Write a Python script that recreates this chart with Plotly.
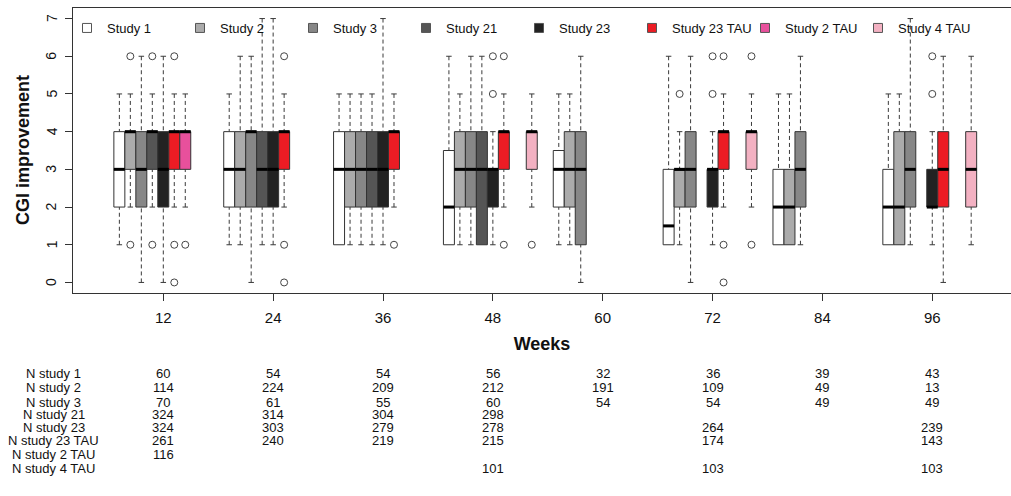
import plotly.graph_objects as go

# ---------------------------------------------------------------------------
# Data: CGI improvement by study and visit week (box statistics per week)
# ---------------------------------------------------------------------------
weeks = [12, 24, 36, 48, 60, 72, 84, 96]
cgi_ticks = [0, 1, 2, 3, 4, 5, 6, 7]

series_names = ["Study 1", "Study 2", "Study 3", "Study 21", "Study 23",
                "Study 23 TAU", "Study 2 TAU", "Study 4 TAU"]

# None marks a week without data for that study
study1_q1 = [2, 2, 1, 1, 2, 1, 1, 1]
study1_med = [3, 3, 3, 2, 3, 1.5, 2, 2]
study1_q3 = [4, 4, 4, 3.5, 3.5, 3, 3, 3]
study1_lo = [1, 1, 1, 1, 1, 1, 1, 1]
study1_hi = [5, 5, 5, 6, 5, 6, 5, 5]
study1_out = [[], [], [], [], [], [], [], []]

study2_q1 = [3, 2, 2, 2, 2, 2, 1, 1]
study2_med = [4, 3, 3, 3, 3, 3, 2, 2]
study2_q3 = [4, 4, 4, 4, 4, 3, 3, 4]
study2_lo = [2, 1, 1, 1, 1, 1, 1, 1]
study2_hi = [5, 6, 5, 5, 5, 4, 5, 5]
study2_out = [[6, 1], [], [], [], [], [5], [], []]

study3_q1 = [2, 2, 2, 2, 1, 2, 2, 2]
study3_med = [3, 4, 3, 3, 3, 3, 3, 3]
study3_q3 = [4, 4, 4, 4, 4, 4, 4, 4]
study3_lo = [0, 0, 1, 1, 0, 0, 1, 1]
study3_hi = [6, 6, 5, 6, 6, 6, 6, 7]
study3_out = [[], [], [], [], [], [], [], []]

study21_q1 = [3, 2, 2, 1, None, None, None, None]
study21_med = [4, 3, 3, 3, None, None, None, None]
study21_q3 = [4, 4, 4, 4, None, None, None, None]
study21_lo = [2, 1, 1, 1, None, None, None, None]
study21_hi = [5, 7, 5, 6, None, None, None, None]
study21_out = [[6, 1], [], [], [], [], [], [], []]

study23_q1 = [2, 2, 2, 2, None, 2, None, 2]
study23_med = [3, 3, 3, 3, None, 3, None, 2]
study23_q3 = [4, 4, 4, 3, None, 3, None, 3]
study23_lo = [0, 1, 1, 1, None, 1, None, 1]
study23_hi = [6, 7, 7, 4, None, 4, None, 4]
study23_out = [[], [], [], [6, 5], [], [6, 5], [], [6, 5]]

study23tau_q1 = [3, 3, 3, 3, None, 3, None, 2]
study23tau_med = [4, 4, 4, 4, None, 4, None, 3]
study23tau_q3 = [4, 4, 4, 4, None, 4, None, 4]
study23tau_lo = [2, 2, 2, 2, None, 2, None, 0]
study23tau_hi = [5, 5, 5, 5, None, 5, None, 6]
study23tau_out = [[6, 1, 0], [6, 1, 0], [1], [6, 1], [], [6, 1, 0], [], []]

study2tau_q1 = [3, None, None, None, None, None, None, None]
study2tau_med = [4, None, None, None, None, None, None, None]
study2tau_q3 = [4, None, None, None, None, None, None, None]
study2tau_lo = [2, None, None, None, None, None, None, None]
study2tau_hi = [5, None, None, None, None, None, None, None]
study2tau_out = [[1], [], [], [], [], [], [], []]

study4tau_q1 = [None, None, None, 3, None, 3, None, 2]
study4tau_med = [None, None, None, 4, None, 4, None, 3]
study4tau_q3 = [None, None, None, 4, None, 4, None, 4]
study4tau_lo = [None, None, None, 2, None, 2, None, 1]
study4tau_hi = [None, None, None, 5, None, 5, None, 6]
study4tau_out = [[], [], [], [1], [], [6, 1], [], []]

# Number of patients per study and week (None = not assessed)
table_labels = ["N study 1", "N study 2", "N study 3", "N study 21", "N study 23",
                "N study 23 TAU", "N study 2 TAU", "N study 4 TAU"]
n_study1 = [60, 54, 54, 56, 32, 36, 39, 43]
n_study2 = [114, 224, 209, 212, 191, 109, 49, 13]
n_study3 = [70, 61, 55, 60, 54, 54, 49, 49]
n_study21 = [324, 314, 304, 298, None, None, None, None]
n_study23 = [324, 303, 279, 278, None, 264, None, 239]
n_study23tau = [261, 240, 219, 215, None, 174, None, 143]
n_study2tau = [116, None, None, None, None, None, None, None]
n_study4tau = [None, None, None, 101, None, 103, None, 103]

# ---------------------------------------------------------------------------
# Styling
# ---------------------------------------------------------------------------
FONT = "Liberation Sans, Arial, Helvetica, sans-serif"
colors = ["#ffffff", "#ababab", "#878787", "#555555", "#222222",
          "#ec1c24", "#e8509c", "#f3b1c2"]
slot_offsets = [-4.8, -3.6, -2.4, -1.2, 0.0, 1.2, 2.4, 4.25]  # weeks from visit
BOX_W = 1.2
CAP_HALF = BOX_W / 4
EDGE = "#333333"

stats = [
    (study1_q1, study1_med, study1_q3, study1_lo, study1_hi, study1_out),
    (study2_q1, study2_med, study2_q3, study2_lo, study2_hi, study2_out),
    (study3_q1, study3_med, study3_q3, study3_lo, study3_hi, study3_out),
    (study21_q1, study21_med, study21_q3, study21_lo, study21_hi, study21_out),
    (study23_q1, study23_med, study23_q3, study23_lo, study23_hi, study23_out),
    (study23tau_q1, study23tau_med, study23tau_q3, study23tau_lo, study23tau_hi, study23tau_out),
    (study2tau_q1, study2tau_med, study2tau_q3, study2tau_lo, study2tau_hi, study2tau_out),
    (study4tau_q1, study4tau_med, study4tau_q3, study4tau_lo, study4tau_hi, study4tau_out),
]
n_table = [n_study1, n_study2, n_study3, n_study21, n_study23,
           n_study23tau, n_study2tau, n_study4tau]

fig = go.Figure()

wx, wy = [], []      # dashed whiskers
cx, cy = [], []      # whisker staples
mx, my = [], []      # medians
ox, oy = [], []      # outliers

for name, color, off, (q1, med, q3, lo, hi, out) in zip(series_names, colors, slot_offsets, stats):
    xs, b_q1, b_med, b_q3 = [], [], [], []
    for i, wk in enumerate(weeks):
        if q1[i] is None:
            continue
        x = wk + off
        xs.append(x)
        b_q1.append(q1[i]); b_med.append(med[i]); b_q3.append(q3[i])
        for end, edge in ((lo[i], q1[i]), (hi[i], q3[i])):
            if end != edge:
                wx += [x, x, None]; wy += [end, edge, None]
                cx += [x - CAP_HALF, x + CAP_HALF, None]; cy += [end, end, None]
        mx += [x - BOX_W / 2, x + BOX_W / 2, None]; my += [med[i], med[i], None]
        for v in out[i]:
            ox.append(x); oy.append(v)
    fig.add_trace(go.Box(
        x=xs, q1=b_q1, median=b_med, q3=b_q3, lowerfence=b_q1, upperfence=b_q3,
        width=BOX_W, whiskerwidth=0, fillcolor=color,
        line=dict(color=EDGE, width=1), showlegend=False, hoverinfo="skip",
    ))

fig.add_trace(go.Scatter(x=wx, y=wy, mode="lines", showlegend=False, hoverinfo="skip",
                         line=dict(color="#3a3a3a", width=1, dash="4px,3px")))
fig.add_trace(go.Scatter(x=cx, y=cy, mode="lines", showlegend=False, hoverinfo="skip",
                         line=dict(color="#3a3a3a", width=1)))
fig.add_trace(go.Scatter(x=mx, y=my, mode="lines", showlegend=False, hoverinfo="skip",
                         line=dict(color="#000000", width=3)))
fig.add_trace(go.Scatter(x=ox, y=oy, mode="markers", showlegend=False, hoverinfo="skip",
                         marker=dict(symbol="circle-open", size=7, color="#444444",
                                     line=dict(width=1))))

# Legend entries: filled squares
for name, color in zip(series_names, colors):
    fig.add_trace(go.Scatter(
        x=[None], y=[None], mode="markers", name=name,
        marker=dict(symbol="square", size=9, color=color, line=dict(color="#555555", width=1)),
    ))

# ---------------------------------------------------------------------------
# Layout
# ---------------------------------------------------------------------------
W, H = 1011, 496
M_L, M_R, M_T, M_B = 73, 0, 8, 203
plot_w = W - M_L - M_R
plot_h = H - M_T - M_B


def paper_y(px):
    return (H - M_B - px) / plot_h


def paper_x(px):
    return (px - M_L) / plot_w


annotations = []

# Vertical y tick labels, reading bottom-to-top
YLABEL_COL_PX = 51.5
for v in cgi_ticks:
    annotations.append(dict(x=paper_x(YLABEL_COL_PX), y=v, xref="paper", yref="y",
                            text=str(v), textangle=-90, showarrow=False,
                            xanchor="center", yanchor="middle",
                            font=dict(family=FONT, size=14, color="#111111")))

# Y axis title
annotations.append(dict(x=paper_x(22.5), y=0.5, xref="paper", yref="paper",
                        text="<b>CGI improvement</b>", textangle=-90, showarrow=False,
                        xanchor="center", yanchor="middle",
                        font=dict(family=FONT, size=18, color="#111111")))

# Patient counts table under the axis
table_rows_px = [373.3, 387.7, 402.3, 414.3, 427.7, 440.0, 454.7, 468.7]
LABEL_COL_PX = 53.5
for label, counts, ypx in zip(table_labels, n_table, table_rows_px):
    annotations.append(dict(x=paper_x(LABEL_COL_PX), y=paper_y(ypx), xref="paper", yref="paper",
                            text=label, showarrow=False, xanchor="center", yanchor="middle",
                            font=dict(family=FONT, size=13, color="#111111")))
    for wk, n in zip(weeks, counts):
        if n is None:
            continue
        annotations.append(dict(x=wk, y=paper_y(ypx), xref="x", yref="paper", text=str(n),
                                showarrow=False, xanchor="center", yanchor="middle",
                                font=dict(family=FONT, size=13, color="#111111")))

fig.update_layout(
    width=W, height=H,
    margin=dict(l=M_L, r=M_R, t=M_T, b=M_B, pad=0),
    paper_bgcolor="white", plot_bgcolor="white",
    font=dict(family=FONT, color="#111111"),
    boxmode="overlay",
    showlegend=True,
    legend=dict(orientation="h", x=0, xanchor="left", y=paper_y(13), yanchor="top",
                indentation=-6,
                font=dict(family=FONT, size=13, color="#111111"),
                bgcolor="rgba(0,0,0,0)", entrywidth=74, entrywidthmode="pixels",
                itemclick=False, itemdoubleclick=False),
    xaxis=dict(range=[2.136, 104.6], tickvals=weeks, ticktext=[str(w) for w in weeks],
               ticks="outside", ticklen=7, tickcolor=EDGE, tickfont=dict(size=15),
               ticklabelstandoff=4,
               showline=True, linecolor=EDGE, linewidth=1, mirror=True,
               showgrid=False, zeroline=False,
               title=dict(text="<b>Weeks</b>", font=dict(size=18), standoff=12)),
    yaxis=dict(range=[-0.28, 7.28], tickvals=cgi_ticks, showticklabels=False,
               ticks="outside", ticklen=7, tickcolor=EDGE,
               showline=True, linecolor=EDGE, linewidth=1, mirror=False,
               showgrid=False, zeroline=False),
    annotations=annotations,
)

fig.write_html("out.html")
